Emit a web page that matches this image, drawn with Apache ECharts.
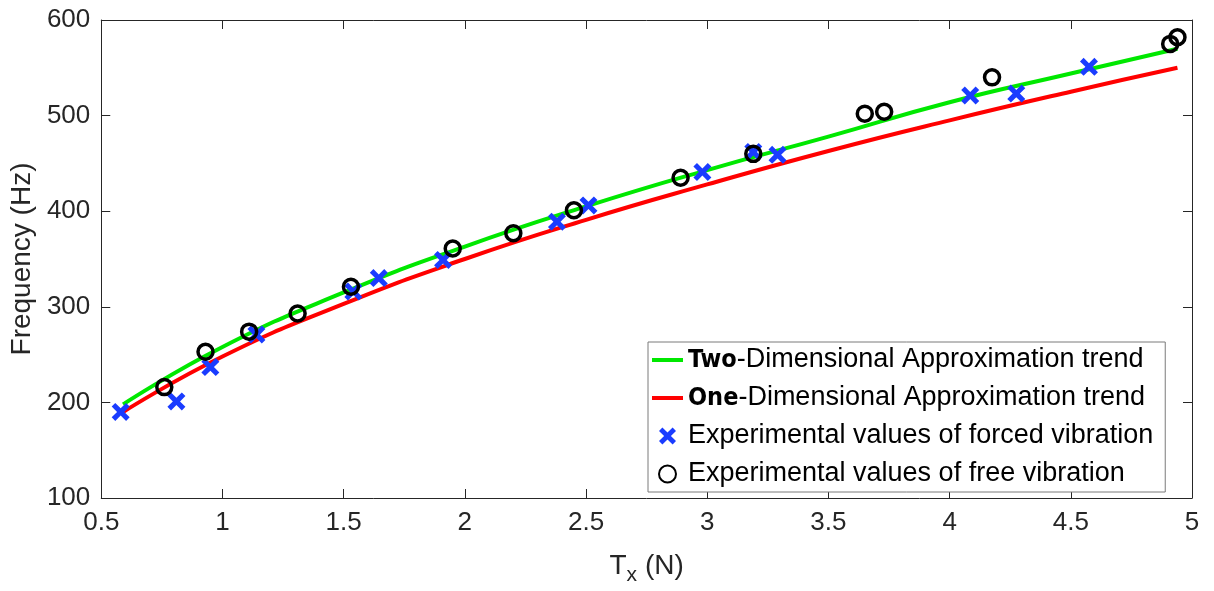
<!DOCTYPE html>
<html>
<head>
<meta charset="utf-8">
<script src="https://cdn.jsdelivr.net/npm/echarts@6/dist/echarts.min.js"></script>
<style>
html,body{margin:0;padding:0;background:#fff;}
#container{width:1214px;height:591px;}
</style>
</head>
<body>
<div id="container"></div>
<script>
// trend curves (Tx in N, frequency in Hz)
var twoDimX = [0.59, 1.0, 1.5, 2.0, 2.5, 3.0, 3.5, 4.0, 4.5, 4.94];
var twoDimY = [198, 258, 315, 363, 405, 443, 478, 514, 544, 570];
var oneDimX = [0.59, 1.0, 1.5, 2.0, 2.5, 3.0, 3.5, 4.0, 4.5, 4.94];
var oneDimY = [190, 248, 303, 350, 391, 428, 463, 495, 525, 550];
// measured points
var forcedX = [0.58, 0.81, 0.95, 1.14, 1.54, 1.645, 1.91, 2.38, 2.51, 2.98, 3.19, 3.29, 4.085, 4.275, 4.575];
var forcedY = [190, 201, 237, 271, 316, 330, 349, 389, 406, 441, 462, 459, 521, 523, 551];
var freeX = [0.76, 0.93, 1.11, 1.31, 1.53, 1.95, 2.20, 2.45, 2.89, 3.19, 3.65, 3.73, 4.175, 4.91, 4.94];
var freeY = [216, 253, 274, 293, 321, 361, 377, 401, 435, 460, 502, 504, 540, 575, 582];
var xTicks = [0.5, 5, 0.5]; // min, max, interval
var yTicks = [100, 600, 100];

function pairs(xs, ys){
	var out = [];
	for(var i=0;i<xs.length;i++){
		out.push([xs[i], ys[i]]);
	}
	return out;
}

var crossPath = 'path://M2,0 L5,3 L8,0 L10,2 L7,5 L10,8 L8,10 L5,7 L2,10 L0,8 L3,5 L0,2 Z';
var linePath = 'path://M0,0 H31 V4 H0 Z';
var axisColor = '#262626';
var font = 'Liberation Sans, Arial, sans-serif';

var chart = echarts.init(document.getElementById('container'));
var option = {
	backgroundColor: '#fff',
	animation: false,
	grid: {left: 100, right: 22, top: 20, bottom: 91},
	legend: {
		orient: 'vertical',
		left: 648,
		top: 342,
		padding: [3, 12, 3, 4],
		itemGap: 8,
		itemWidth: 31,
		itemHeight: 17,
		borderColor: '#7a7a7a',
		borderWidth: 1,
		backgroundColor: '#fff',
		textStyle: {
			fontFamily: font,
			fontSize: 27,
			lineHeight: 30,
			color: '#000',
			rich: {
				b: {fontFamily: 'Liberation Sans Narrow, DejaVu Sans Condensed, sans-serif', fontWeight: 'bold', fontSize: 25, lineHeight: 30, color: '#000'},
				n: {fontFamily: font, fontSize: 27, lineHeight: 30, color: '#000'}
			}
		},
		formatter: function(name){
			if(name.indexOf('Two-') === 0){
				return '{b|Two}{n|' + name.substring(3) + '}';
			}
			if(name.indexOf('One-') === 0){
				return '{b|One}{n|' + name.substring(3) + '}';
			}
			return name;
		},
		data: [
			{name: 'Two-Dimensional Approximation trend', icon: linePath},
			{name: 'One-Dimensional Approximation trend', icon: linePath},
			{name: 'Experimental values of forced vibration', icon: crossPath},
			{name: 'Experimental values of free vibration', icon: 'circle'}
		]
	},
	xAxis: [{
		type: 'value',
		min: xTicks[0], max: xTicks[1], interval: xTicks[2],
		name: 'T{s|x} (N)',
		nameLocation: 'middle',
		nameGap: 49,
		nameTextStyle: {
			fontFamily: font, fontSize: 28, color: axisColor,
			rich: {s: {fontFamily: font, fontSize: 21, color: axisColor, verticalAlign: 'bottom', padding: [18, 0, 0, 0]}}
		},
		axisLine: {show: true, lineStyle: {color: axisColor, width: 1}},
		axisTick: {show: true, inside: true, length: 9, lineStyle: {color: axisColor}},
		axisLabel: {fontFamily: font, fontSize: 26, color: axisColor, margin: 12, formatter: function(v){ return String(v); }},
		splitLine: {show: false}
	}, {
		type: 'value', position: 'top',
		min: xTicks[0], max: xTicks[1], interval: xTicks[2],
		axisLine: {show: true, lineStyle: {color: axisColor, width: 1}},
		axisTick: {show: true, inside: true, length: 9, lineStyle: {color: axisColor}},
		axisLabel: {show: false},
		splitLine: {show: false}
	}],
	yAxis: [{
		type: 'value',
		min: yTicks[0], max: yTicks[1], interval: yTicks[2],
		name: 'Frequency (Hz)',
		nameLocation: 'middle',
		nameGap: 62,
		nameTextStyle: {fontFamily: font, fontSize: 28, color: axisColor},
		axisLine: {show: true, lineStyle: {color: axisColor, width: 1}},
		axisTick: {show: true, inside: true, length: 9, lineStyle: {color: axisColor}},
		axisLabel: {fontFamily: font, fontSize: 26, color: axisColor, margin: 11},
		splitLine: {show: false}
	}, {
		type: 'value', position: 'right',
		min: yTicks[0], max: yTicks[1], interval: yTicks[2],
		axisLine: {show: true, lineStyle: {color: axisColor, width: 1}},
		axisTick: {show: true, inside: true, length: 9, lineStyle: {color: axisColor}},
		axisLabel: {show: false},
		splitLine: {show: false}
	}],
	series: [{
		name: 'Two-Dimensional Approximation trend',
		type: 'line',
		smooth: true,
		symbol: 'none',
		z: 3,
		lineStyle: {color: '#00e800', width: 4},
		itemStyle: {color: '#00e800'},
		data: pairs(twoDimX, twoDimY)
	}, {
		name: 'One-Dimensional Approximation trend',
		type: 'line',
		smooth: true,
		symbol: 'none',
		z: 2,
		lineStyle: {color: '#ff0000', width: 4},
		itemStyle: {color: '#ff0000'},
		data: pairs(oneDimX, oneDimY)
	}, {
		name: 'Experimental values of forced vibration',
		type: 'scatter',
		symbol: crossPath,
		symbolSize: 18,
		z: 4,
		itemStyle: {color: '#1a3cff', opacity: 1},
		data: pairs(forcedX, forcedY)
	}, {
		name: 'Experimental values of free vibration',
		type: 'scatter',
		symbol: 'circle',
		symbolSize: 15,
		z: 5,
		itemStyle: {color: 'rgba(0,0,0,0)', borderColor: '#000', borderWidth: 3.5, opacity: 1},
		data: pairs(freeX, freeY)
	}]
};
chart.setOption(option);
</script>
</body>
</html>
